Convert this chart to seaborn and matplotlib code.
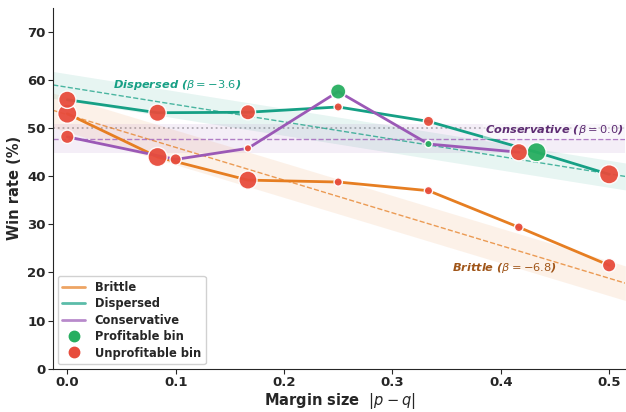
import numpy as np
import pandas as pd
import seaborn as sns
import matplotlib.pyplot as plt
from matplotlib.lines import Line2D

sns.set_style("ticks")
plt.rcParams['font.family'] = ['DejaVu Sans']

# data per bin (x = mean margin of bin, y = win rate, n = bin size)
models = ['Brittle', 'Dispersed', 'Conservative']
colors = {'Brittle': '#e67e22', 'Dispersed': '#16a085', 'Conservative': '#9b59b6'}
text_colors = {'Brittle': '#a0561a', 'Dispersed': '#17a085', 'Conservative': '#5e2d73'}

brittle_x = [0.0, 0.0833, 0.1667, 0.25, 0.3333, 0.4167, 0.5]
brittle_y = [53.0, 44.0, 39.2, 38.8, 37.0, 29.4, 21.5]
brittle_n = [100, 100, 90, 20, 20, 22, 50]
brittle_win = [0, 0, 0, 0, 0, 0, 0]

dispersed_x = [0.0, 0.0833, 0.1667, 0.25, 0.3333, 0.433, 0.5]
dispersed_y = [55.9, 53.2, 53.3, 54.4, 51.4, 45.0, 40.4]
dispersed_n = [82, 82, 64, 20, 30, 100, 100]
dispersed_win = [0, 0, 0, 0, 0, 1, 0]

conservative_x = [0.0, 0.1, 0.1667, 0.25, 0.3333, 0.4167]
conservative_y = [48.2, 43.5, 45.8, 57.6, 46.7, 45.0]
conservative_n = [50, 36, 16, 64, 16, 82]
conservative_win = [0, 0, 0, 1, 1, 0]

# linear fits: intercept, slope (per unit margin), CI half-width
fit_intercept = {'Brittle': 52.8, 'Dispersed': 58.5, 'Conservative': 47.8}
fit_slope = {'Brittle': -68.0, 'Dispersed': -36.0, 'Conservative': 0.0}
fit_ci = {'Brittle': 3.6, 'Dispersed': 2.8, 'Conservative': 3.0}

frames = []
for m, xs, ys, ns, ws in [('Brittle', brittle_x, brittle_y, brittle_n, brittle_win),
                          ('Dispersed', dispersed_x, dispersed_y, dispersed_n, dispersed_win),
                          ('Conservative', conservative_x, conservative_y, conservative_n, conservative_win)]:
    frames.append(pd.DataFrame({'model': m, 'margin': xs, 'win_rate': ys, 'n': ns,
                                'bin': ['Profitable bin' if w else 'Unprofitable bin' for w in ws]}))
df = pd.concat(frames, ignore_index=True)

fig, ax = plt.subplots(figsize=(6.26, 4.12), dpi=100)

xlim = (-0.013, 0.515)
grid = np.linspace(xlim[0], xlim[1], 100)

# reference at 50%
ax.axhline(50, color='grey', ls=':', lw=1.3, alpha=0.6, zorder=1)

for m in models:
    fit = fit_intercept[m] + fit_slope[m] * grid
    ax.fill_between(grid, fit - fit_ci[m], fit + fit_ci[m], color=colors[m], alpha=0.1, lw=0, zorder=1)
    ax.plot(grid, fit, color=colors[m], ls='--', lw=1, alpha=0.75, zorder=2)

sns.lineplot(data=df, x='margin', y='win_rate', hue='model', palette=colors,
             hue_order=models, lw=2, sort=True, estimator=None, legend=False, ax=ax, zorder=3)

sns.scatterplot(data=df, x='margin', y='win_rate', hue='bin', size='n',
                palette={'Profitable bin': '#27ae60', 'Unprofitable bin': '#e74c3c'},
                sizes=(28, 190), size_norm=(16, 100), edgecolor='white', linewidth=1,
                alpha=0.95, legend=False, ax=ax, zorder=4)

# annotations
ax.text(0.042, 59.0, r'Dispersed ($\beta=-3.6$)', color=text_colors['Dispersed'],
        fontsize=8.2, fontweight='bold', style='italic', ha='left', va='center')
ax.text(0.513, 49.6, r'Conservative ($\beta=0.0$)', color=text_colors['Conservative'],
        fontsize=8.2, fontweight='bold', style='italic', ha='right', va='center',
        bbox=dict(boxstyle='square,pad=0.15', fc='white', ec='none', alpha=0.5))
ax.text(0.403, 21.0, r'Brittle ($\beta=-6.8$)', color=text_colors['Brittle'],
        fontsize=8.2, fontweight='bold', style='italic', ha='center', va='center')

ax.set_xlim(*xlim)
ax.set_ylim(0, 75)
ax.set_yticks(range(0, 71, 10))
ax.set_xticks([0.0, 0.1, 0.2, 0.3, 0.4, 0.5])
ax.set_xlabel(r'Margin size  $|p-q|$', fontsize=10.5, fontweight='bold', labelpad=1)
ax.set_ylabel('Win rate (%)', fontsize=10.5, fontweight='bold', labelpad=4)
for lab in ax.get_xticklabels() + ax.get_yticklabels():
    lab.set_fontweight('bold')
ax.tick_params(labelsize=9.5, length=3.5, pad=2)
sns.despine(ax=ax)

handles = [Line2D([0], [0], color=colors[m], lw=2, alpha=0.7, label=m) for m in models]
handles += [Line2D([0], [0], marker='o', ls='', color='#27ae60', markersize=7.5, label='Profitable bin'),
            Line2D([0], [0], marker='o', ls='', color='#e74c3c', markersize=7.5, label='Unprofitable bin')]
ax.legend(handles=handles, loc='lower left', prop={'weight': 'bold', 'size': 8.3},
          framealpha=0.9, borderaxespad=0.4, handlelength=2.0, labelspacing=0.3)

fig.subplots_adjust(left=0.085, right=0.999, top=0.981, bottom=0.105)
plt.savefig('out.png', dpi=100)
